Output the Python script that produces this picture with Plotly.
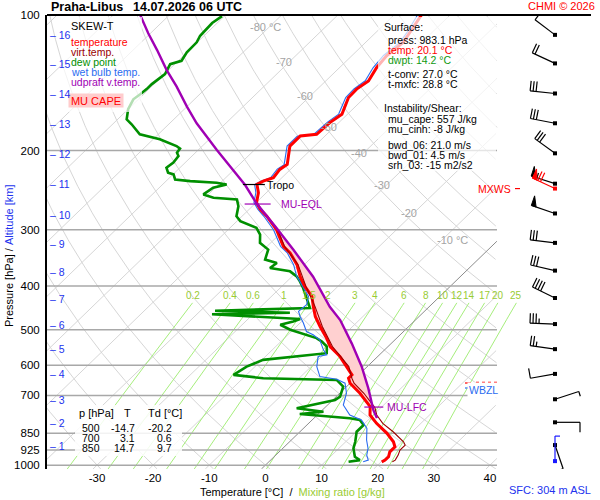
import numpy as np
import plotly.graph_objects as go

FONT = "Liberation Sans, Arial, sans-serif"

# ---- sounding (hPa / degC) ----
temp_p = [100, 103.8, 109.3, 115.0, 123.2, 130.8, 140.1, 146.1, 152.5, 166.1, 173.4, 184.1, 185.7, 195.5,
          214.7, 220.3, 229.9, 233.9, 237.9, 248.3, 261.3, 270.4, 279.9, 299.7, 326.5, 337.6, 358.6, 380.7,
          400.8, 421.8, 444.0, 467.3, 492.0, 522.2, 545.2, 573.9, 604.0, 630.3, 641.1, 657.7, 692.3, 741.6,
          773.8, 807.5, 849.9, 887.4, 910.5, 934.1, 958.3, 974.7, 983.1]
temp_t = [-55.1, -54.6, -53.9, -53.3, -53.8, -53.4, -52.4, -53.0, -52.9, -51.0, -51.6, -51.8, -54.4, -54.4,
          -51.5, -51.9, -51.5, -52.7, -53.2, -51.4, -49.9, -48.0, -45.6, -41.4, -37.1, -34.7, -31.3, -28.6,
          -25.9, -22.8, -20.7, -18.5, -15.8, -12.5, -10.3, -6.7, -3.7, -1.2, -1.2, 0.0, 3.6, 7.9,
          9.4, 12.1, 15.8, 18.5, 19.7, 19.7, 20.4, 20.4, 20.1]

virt_p = [299.7, 326.5, 358.6, 400.8, 444.0, 492.0, 545.2, 604.0, 641.1, 657.7, 692.3, 745.0, 773.8, 807.5,
          843.0, 887.4, 902.5, 926.0, 950.0, 974.7, 983.1]
virt_t = [-41.2, -36.9, -31.1, -25.7, -20.4, -15.4, -9.9, -3.3, -0.6, 0.7, 4.3, 8.9, 10.6, 13.2,
          16.6, 20.3, 21.2, 21.2, 21.8, 22.2, 22.0]

dew_p = [100.6, 104.2, 111.2, 115.0, 121.1, 126.4, 128.6, 135.3, 142.4, 146.1, 150.0, 153.9, 161.9, 170.5,
         174.9, 184.1, 188.9, 195.5, 198.1, 202.2, 205.8, 212.8, 218.4, 224.0, 226.0, 231.9, 233.9, 235.8,
         237.9, 241.9, 250.4, 254.6, 256.9, 265.9, 279.9, 287.1, 297.1, 307.5, 320.8, 332.0, 349.5, 355.5,
         364.7, 371.1, 380.7, 390.6, 404.1, 425.3, 447.6, 454.0, 458.7, 462.2, 473.7, 479.6, 487.7, 500.4,
         522.2, 531.4, 545.2, 564.0, 583.6, 604.0, 630.3, 641.1, 644.4, 646.7, 669.3, 704.6, 716.5, 747.7,
         760.8, 769.9, 787.0, 793.9, 814.5, 843.0, 887.4, 918.0, 958.3, 974.7, 983.1]
dew_t = [-90.4, -90.9, -90.7, -90.1, -90.0, -89.4, -90.8, -89.9, -90.4, -90.4, -90.6, -90.9, -90.0, -88.4,
         -86.6, -83.3, -78.8, -74.6, -73.5, -73.3, -72.4, -72.1, -72.4, -71.2, -69.9, -68.7, -65.7, -60.7,
         -58.6, -60.4, -60.9, -58.5, -54.0, -52.5, -51.0, -49.4, -45.3, -43.4, -41.9, -39.2, -37.9, -35.2,
         -35.5, -31.3, -29.2, -27.7, -25.9, -23.4, -21.0, -37.4, -23.7, -37.3, -20.7, -21.5, -23.2, -20.5,
         -14.3, -12.7, -10.9, -9.7, -19.8, -21.5, -22.3, -16.4, -7.3, -3.0, -0.6, 0.7, 0.4, -4.9,
         0.5, -3.3, 6.4, 8.5, 10.1, 10.1, 11.7, 12.6, 14.4, 15.9, 14.2]

wetb_p = [100, 104, 109, 115, 123, 131, 140, 146, 152.5, 166, 173, 184, 186, 195.5, 215, 220, 230, 234, 238,
          248, 261, 270, 280, 300, 326.5, 337.6, 358.6, 380.7, 387.2, 421.8, 440.2, 455.6, 467.4, 483.5,
          504.8, 513.4, 526.8, 554.5, 568.9, 573.9, 604.0, 635.8, 644.4, 657.7, 692.3, 735.2, 754.2, 773.8,
          793.9, 828.4, 879.6, 918.0, 950.0, 974.7, 983.1]
wetb_t = [-55.8, -55.2, -54.5, -53.9, -54.4, -54.0, -53.0, -53.5, -53.4, -51.6, -52.1, -52.3, -54.9, -54.9,
          -52.0, -52.4, -52.0, -53.1, -53.6, -51.9, -50.4, -48.5, -46.1, -41.9, -37.6, -35.2, -31.9, -29.2,
          -28.2, -23.4, -22.2, -22.4, -21.2, -19.4, -17.3, -15.5, -13.4, -10.9, -9.4, -10.6, -9.0, -6.6,
          -3.1, -0.9, 1.2, 2.8, 4.3, 5.8, 8.8, 11.3, 13.4, 15.2, 16.2, 17.4, 16.8]

parcel_p = [100, 109.8, 119.5, 132.4, 144.3, 159.8, 174.0, 199.4, 238.6, 262.1, 297.8, 332.7, 381.5, 444.8,
            476.1, 536.4, 604.6, 675.3, 754.7, 786.2]
parcel_t = [-105.2, -100.4, -95.8, -90.4, -85.5, -80.0, -75.2, -66.7, -55.2, -49.8, -41.6, -34.6, -26.2, -17.7,
            -13.4, -7.05, -0.96, 4.2, 9.1, 11.2]

# levels marked on the diagram
tropo_p, tropo_t = 238.0, -53.2
eql_p, eql_t = 263.0, -50.0
lfc_p, lfc_t = 743.0, 8.7
mxws_p = 243.0
fzl_p, wbzl_p = 657.0, 674.0

# winds (deg, kt)
wind_p = [110.7, 128.1, 149.4, 174.0, 202.9, 237.0, 276.0, 320.8, 369.7, 425.3, 486.0, 552.5, 627.1,
          714.0, 803.3, 902.5]
wind_dir = [307, 295, 276, 281, 306, 288, 289, 277, 283, 296, 272, 278, 260, 72, 90, 161]
wind_spd = [10, 20, 30, 30, 30, 55, 50, 30, 30, 40, 35, 25, 10, 5, 10, 5]
mxws_dir, mxws_spd = 295, 70
sfc_wind_p, sfc_wind_dir, sfc_wind_spd = 979.7, 0, 5

# text values
sfc_press, sfc_temp, sfc_dwpt = 983.1, 20.1, 14.2
t_conv, t_mxfc = 27.0, 28.8
mu_cape, mu_cinh = 557, -8
bwd_06, bwd_01, srh_03 = 21.0, 4.5, -15
table_p = [500, 700, 850]
table_t = [-14.7, 3.1, 14.7]
table_td = [-20.2, 0.6, 9.7]

km_levels = list(range(1, 17))
km_p = [907, 806, 716.5, 627, 551.6, 487.6, 426.9, 371.7, 322, 277.5, 237.9, 204, 174.9, 150, 128.6, 110.8]

p_levels = [100, 200, 300, 400, 500, 600, 700, 850, 925, 1000]
t_ticks = [-30, -20, -10, 0, 10, 20, 30, 40]
mix_ratios = [0.2, 0.4, 0.6, 1, 1.5, 2, 3, 4, 6, 8, 10, 12, 14, 17, 20, 25]
iso_lab_t = [-80, -70, -60, -50, -40, -30, -20, -10]
iso_lab_p = [106.3, 127.2, 151.4, 177.5, 202.6, 238.7, 275.4, 316.2]

# ---- geometry ----
K = 36.0          # skew of isotherms
PXT = 5.614       # px per degC
PXD = 450.0       # px per decade of pressure
LM, TM, BM = 47, 15, 31
XMIN = -30 - (97 - LM) / PXT
XMAX = XMIN + (600 - LM) / PXT
XEDGE = XMIN + (497 - LM) / PXT
STN_X = XMIN + (555 - LM) / PXT


def sk(t, p):
    return np.asarray(t, float) + K * np.log(1000.0 / np.asarray(p, float))


def clip(x):
    x = np.asarray(x, float).copy()
    x[x > XEDGE] = np.nan
    return x


def paper(px, py):
    return (px - LM) / (600 - LM), (500 - BM - py) / (500 - BM - TM)


fig = go.Figure()


def line(x, y, color, width, **kw):
    fig.add_trace(go.Scatter(x=list(x), y=list(y), mode='lines', line=dict(color=color, width=width),
                             hoverinfo='skip', showlegend=False, **kw))


pp = np.geomspace(1020, 100, 300)
# isotherms
gx, gy = [], []
for t in range(-140, 50, 10):
    if t == 0:
        continue
    gx += list(clip(sk(t, pp))) + [None]
    gy += list(pp) + [None]
line(gx, gy, '#d6d6d6', 1)
# dry adiabats
gx, gy = [], []
for th in range(-40, 190, 10):
    t = (th + 273.15) * (pp / 1000.0) ** 0.2857 - 273.15
    gx += list(clip(sk(t, pp))) + [None]
    gy += list(pp) + [None]
line(gx, gy, '#d6d6d6', 1)
# mixing ratio lines
pm = np.geomspace(1020, 436, 60)
gx, gy, lab_x = [], [], []
for w in mix_ratios:
    e = w * pm / (622.0 + w)
    a = np.log(e / 6.112)
    td = 243.5 * a / (17.67 - a)
    xs = sk(td, pm)
    gx += list(xs) + [None]
    gy += list(pm) + [None]
    lab_x.append(xs[-1])
line(gx, gy, '#a6ee7c', 1, cliponaxis=False)
# 0 degC isotherm
line(clip(sk(0, pp)), pp, '#8c8c8c', 1)
# pressure levels
gx, gy = [], []
for p in p_levels[1:]:
    gx += [XMIN, XEDGE, None]
    gy += [p, p, None]
line(gx, gy, '#a8a8a8', 1.5)

# CAPE area between parcel and environment
par = [(p, t) for p, t in zip(parcel_p, parcel_t) if 261 <= p <= 755]
env = [(p, t) for p, t in zip(temp_p, temp_t) if 261 <= p <= 755][::-1]
cx = list(sk([t for p, t in par], [p for p, t in par])) + list(sk([t for p, t in env], [p for p, t in env]))
cy = [p for p, t in par] + [p for p, t in env]
fig.add_trace(go.Scatter(x=cx, y=cy, mode='lines', fill='toself', fillcolor='#ffd0d0',
                         line=dict(width=0), hoverinfo='skip', showlegend=False))

line(sk(dew_t, dew_p), dew_p, '#008f00', 2.6)
line(sk(wetb_t, wetb_p), wetb_p, '#2a6cf0', 1.1)
line(sk(temp_t, temp_p), temp_p, '#ff0000', 3)
line(sk(virt_t, virt_p), virt_p, '#990000', 1.1)
line(sk(parcel_t, parcel_p), parcel_p, '#a000b4', 2.4)

# level markers
tx = float(sk(tropo_t, tropo_p))
line([tx - 14 / PXT, tx + 8 / PXT], [tropo_p, tropo_p], 'black', 1.2)
ex = float(sk(eql_t, eql_p))
line([ex - 10 / PXT, ex + 16 / PXT], [eql_p, eql_p], '#a000b4', 1.2)
lx = float(sk(lfc_t, lfc_p))
line([lx - 10 / PXT, lx + 9 / PXT], [lfc_p, lfc_p], '#a000b4', 1.2)
line([STN_X - 40 / PXT, STN_X - 35 / PXT], [mxws_p, mxws_p], 'red', 1.2, cliponaxis=False)
line([XEDGE - 32 / PXT, XEDGE - 26 / PXT], [fzl_p, fzl_p], 'red', 1.2)
fig.add_trace(go.Scatter(x=[XEDGE - 21 / PXT, XEDGE], y=[fzl_p * 0.997, fzl_p * 0.997], mode='lines',
                         line=dict(color='red', width=1.2, dash='3px,3px'), hoverinfo='skip', showlegend=False))
line([XEDGE - 32 / PXT, XEDGE - 26 / PXT], [wbzl_p, wbzl_p], '#2a6cf0', 1.2)


# wind barbs
def barb(p, wdir, spd, color):
    a = np.radians(wdir)
    ux, uy = np.sin(a), -np.cos(a)
    fx, fy = -uy, ux

    def at(d, e=0.0):
        dx = d * ux + e * fx
        dy = d * uy + e * fy
        return STN_X + dx / PXT, 10 ** (np.log10(p) + dy / PXD)

    segs = [[at(0), at(25)]]
    polys = []
    n50 = spd // 50
    n10 = (spd - 50 * n50) // 10
    n5 = (spd - 50 * n50 - 10 * n10) // 5
    pos = 25.0
    for _ in range(n50):
        polys.append([at(pos), at(pos, 10), at(pos - 5), at(pos)])
        pos -= 6
    for _ in range(n10):
        segs.append([at(pos), at(pos, 10)])
        pos -= 3
    for _ in range(n5):
        segs.append([at(pos), at(pos, 5)])
    bx, by = [], []
    for s in segs:
        bx += [q[0] for q in s] + [None]
        by += [q[1] for q in s] + [None]
    line(bx, by, color, 1.2)
    for pg in polys:
        fig.add_trace(go.Scatter(x=[q[0] for q in pg], y=[q[1] for q in pg], mode='lines', fill='toself',
                                 fillcolor=color, line=dict(color=color, width=1), hoverinfo='skip',
                                 showlegend=False))
    fig.add_trace(go.Scatter(x=[STN_X], y=[p], mode='markers', marker=dict(symbol='square', size=4, color=color),
                             hoverinfo='skip', showlegend=False))


for p, d, s in zip(wind_p, wind_dir, wind_spd):
    barb(p, d, s, 'black')
barb(mxws_p, mxws_dir, mxws_spd, '#ff0000')
barb(sfc_wind_p, sfc_wind_dir, sfc_wind_spd, '#1a1aff')

# ---- text ----
anns = []


def ann(text, px, py, color='black', size=10.5, xanchor='left', **kw):
    x, y = paper(px, py)
    anns.append(dict(text=text, x=x, y=y, xref='paper', yref='paper', showarrow=False, xanchor=xanchor,
                     yanchor='middle', font=dict(color=color, size=size, family=FONT), **kw))


def ann_data(text, x, p, color='black', size=10.5, xanchor='left', xshift=0, yshift=0, **kw):
    anns.append(dict(text=text, x=x, y=np.log10(p), xref='x', yref='y', showarrow=False, xanchor=xanchor,
                     yanchor='middle', xshift=xshift, yshift=yshift,
                     font=dict(color=color, size=size, family=FONT), **kw))


ann('<b>Praha-Libus</b>', 49, 7, size=12.5)
ann('<b>14.07.2026 06 UTC</b>', 131, 7, size=12.5)
ann('CHMI © 2026', 597, 6, color='#ff0000', size=11, xanchor='right')

# legend block
ann('SKEW-T', 69, 26, size=11)
for i, (txt, col) in enumerate([('temperature', '#ff0000'), ('virt.temp.', '#990000'), ('dew point', '#008f00'),
                                ('wet bulb temp.', '#2a6cf0'), ('udpraft v.temp.', '#a000b4')]):
    ann(txt, 69, 42 + 10 * i, color=col)
ann('MU CAPE', 96, 100, color='#ff0000', xanchor='center', bgcolor='#ffcccc', width=52, height=11, size=11)

# surface / instability block
info = [('Surface:', 382, 27, 'black'),
        (f'press: {sfc_press:.1f} hPa', 386, 40, 'black'),
        (f'temp: {sfc_temp:.1f} °C', 386, 50, '#ff0000'),
        (f'dwpt: {sfc_dwpt:.1f} °C', 386, 60, '#119911'),
        (f't-conv: {t_conv:.1f} °C', 386, 74, 'black'),
        (f't-mxfc: {t_mxfc:.1f} °C', 386, 84, 'black'),
        ('Instability/Shear:', 382, 108, 'black'),
        (f'mu_cape: {mu_cape} J/kg', 386, 119, 'black'),
        (f'mu_cinh: {mu_cinh} J/kg', 386, 129, 'black'),
        (f'bwd_06: {bwd_06:.1f} m/s', 386, 145, 'black'),
        (f'bwd_01: {bwd_01:.1f} m/s', 386, 155, 'black'),
        (f'srh_03: {srh_03} m2/s2', 386, 165, 'black')]
for txt, px, py, col in info:
    ann(txt, px, py, color=col)

# small table
ann('p [hPa]', 77, 413, size=11)
ann('T', 127, 413, xanchor='center', size=11)
ann('Td [°C]', 146, 413, size=11)
for i, (p, t, td) in enumerate(zip(table_p, table_t, table_td)):
    y = 428 + 10 * i
    ann(str(p), 102, y, xanchor='right')
    ann(f'{t:.1f}', 137, y, xanchor='right')
    ann(f'{td:.1f}', 174, y, xanchor='right')

# altitude ticks
for km, p in zip(km_levels, km_p):
    anns.append(dict(text=f'–\u00a0{km}', x=(48 - LM) / (600 - LM), y=np.log10(p), xref='paper', yref='y',
                     showarrow=False, xanchor='left', yanchor='middle',
                     font=dict(color='#2233ee', size=10.5, family=FONT)))

# isotherm labels
for t, p in zip(iso_lab_t, iso_lab_p):
    x = float(sk(t, p))
    if t == -10:
        ann_data(f'{t} °C', x, p, color='#a4a4a4', xanchor='left', xshift=-7, size=11)
    elif t == -80:
        ann_data(f'{t} °C', x, p, color='#a4a4a4', xanchor='center', xshift=-4, size=11)
    else:
        ann_data(f'{t}', x, p, color='#a4a4a4', xanchor='center', xshift=-5, size=11)

# mixing ratio labels
for w, x in zip(mix_ratios, lab_x):
    ann_data(f'{w:g}', x, 419, color='#99cc33', xanchor='center', size=10)

# level labels
ann_data('Tropo', tx, tropo_p, xshift=8)
ann_data('MU-EQL', ex, eql_p, color='#a000b4', xshift=24)
ann_data('MU-LFC', lx, lfc_p, color='#a000b4', xshift=11)
ann_data('MXWS', STN_X, mxws_p, color='#ff0000', xanchor='right', xshift=-42)
ann_data('WBZL', XEDGE, wbzl_p, color='#2a6cf0', xanchor='right', xshift=3, yshift=-2, bgcolor='white')

ann('SFC: 304 m ASL', 550, 490, color='#2233ee', xanchor='center', size=11)
ann('Temperature [°C]\u00a0\u00a0/\u00a0\u00a0<span style="color:#99cc33">Mixing ratio [g/kg]</span>', 292, 492,
    xanchor='center', size=11)
anns.append(dict(text='Pressure [hPa]\u00a0/\u00a0<span style="color:#2233ee">Altitude [km]</span>',
                 x=paper(9, 0)[0], y=paper(0, 256)[1], xref='paper', yref='paper', showarrow=False,
                 textangle=-90, xanchor='center', yanchor='middle', font=dict(size=11, family=FONT, color='black')))


def box(x0, y0, x1, y1, opacity):
    a0, b0 = paper(x0, y0)
    a1, b1 = paper(x1, y1)
    return dict(type='rect', xref='paper', yref='paper', x0=a0, y0=b0, x1=a1, y1=b1, fillcolor='white',
                opacity=opacity, line=dict(width=0), layer='above')


t0, t1 = paper(47, 15), paper(591, 15)
shapes = [box(63, 17, 142, 112, 0.7), box(378, 17, 496, 171, 0.7), box(75, 405, 182, 456, 0.85),
          dict(type='line', xref='paper', yref='paper', x0=t0[0], y0=t0[1], x1=t1[0], y1=t1[1],
               line=dict(color='black', width=2), layer='above')]

fig.update_layout(
    width=600, height=500, margin=dict(l=LM, r=0, t=TM, b=BM),
    plot_bgcolor='white', paper_bgcolor='white', showlegend=False,
    font=dict(family=FONT, size=11, color='black'),
    xaxis=dict(range=[XMIN, XMAX], tickvals=t_ticks, ticktext=[str(t) for t in t_ticks], showgrid=False,
               zeroline=False, showline=False, ticks='', tickfont=dict(size=11.5)),
    yaxis=dict(type='log', range=[np.log10(1020), 2], tickvals=p_levels, ticktext=[str(p) for p in p_levels],
               showgrid=False, zeroline=False, showline=True, linecolor='black', linewidth=2, ticks='outside',
               ticklen=3, tickcolor='white', tickfont=dict(size=11.5)),
    annotations=anns, shapes=shapes)

fig.write_html('out.html', config={'displayModeBar': False},
               post_script="document.body.style.margin='0px';")
